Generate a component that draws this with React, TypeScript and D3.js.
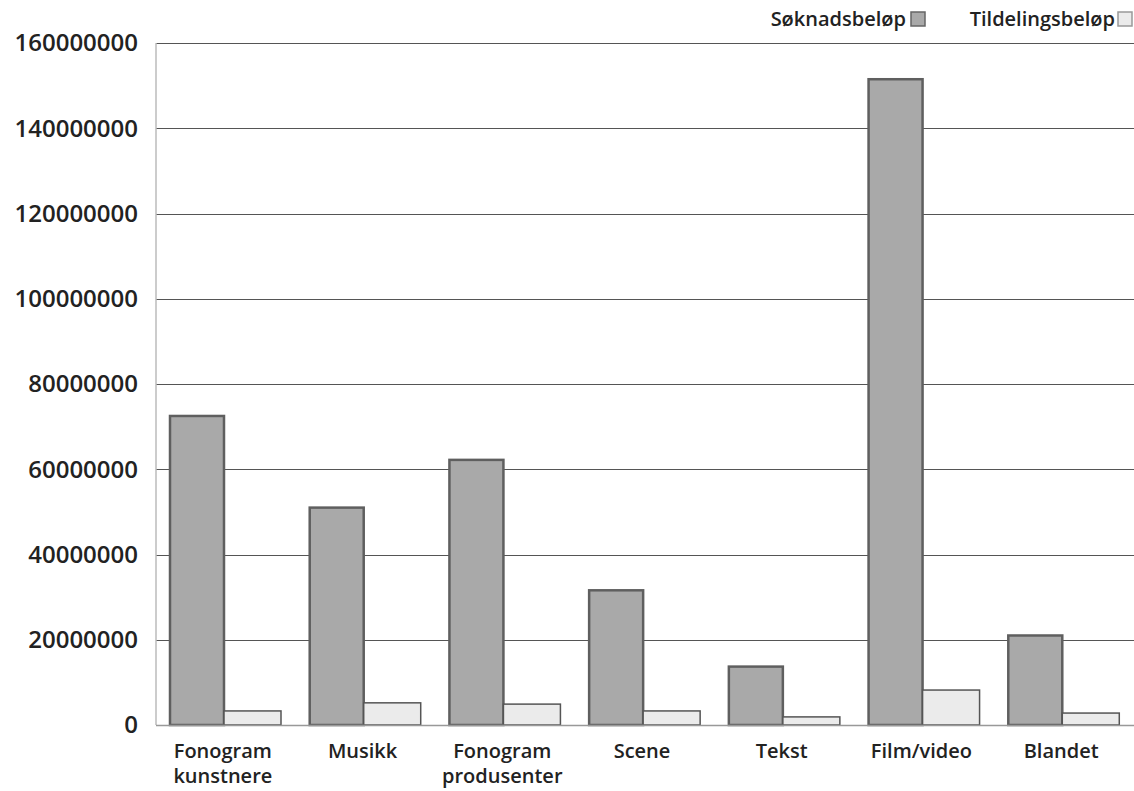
import React, { useEffect, useRef } from "react";
import * as d3 from "d3";

const categories = ["Fonogram\nkunstnere", "Musikk", "Fonogram\nprodusenter", "Scene", "Tekst", "Film/video", "Blandet"];
const soknad = [72500000, 51000000, 62200000, 31600000, 13700000, 151500000, 21000000];
const tildeling = [3300000, 5200000, 4900000, 3300000, 1900000, 8200000, 2800000];
const yTicks = [0, 20000000, 40000000, 60000000, 80000000, 100000000, 120000000, 140000000, 160000000];
const seriesNames = ["Søknadsbeløp", "Tildelingsbeløp"];

const W = 1134;
const H = 791;
const font = "'Open Sans', 'DejaVu Sans', sans-serif";

const App: React.FC = () => {
    const svgRef = useRef<SVGSVGElement | null>(null);

    useEffect(() => {
        const svg = d3.select(svgRef.current);
        svg.selectAll("*").remove();
        const margin = { top: 43, right: 0, bottom: 66, left: 156 };
        const width = W - margin.left - margin.right;
        const height = H - margin.top - margin.bottom;

        const g = svg.append("g").attr("transform", `translate(${margin.left},${margin.top})`);

        const x = d3.scaleBand().domain(categories).range([0, width]).paddingInner(0).paddingOuter(0);
        const y = d3.scaleLinear().domain([0, 160000000]).range([height, 0]);

        // gridlines
        g.selectAll("line.grid")
            .data(yTicks.filter((t) => t > 0))
            .join("line")
            .attr("class", "grid")
            .attr("x1", 0)
            .attr("x2", width)
            .attr("y1", (d) => Math.round(y(d)) + 0.5)
            .attr("y2", (d) => Math.round(y(d)) + 0.5)
            .attr("stroke", "#555")
            .attr("stroke-width", 1.2);

        const step = x.bandwidth();
        const b1 = 54;
        const b2 = 57;
        const off = 14;

        g.selectAll("rect.s1")
            .data(soknad)
            .join("rect")
            .attr("class", "s1")
            .attr("x", (d, i) => x(categories[i])! + off)
            .attr("y", (d) => y(d))
            .attr("width", b1)
            .attr("height", (d) => height - y(d))
            .attr("fill", "#a9a9a9")
            .attr("stroke", "#5f5f5f")
            .attr("stroke-width", 2.5);

        g.selectAll("rect.s2")
            .data(tildeling)
            .join("rect")
            .attr("class", "s2")
            .attr("x", (d, i) => x(categories[i])! + off + b1)
            .attr("y", (d) => y(d))
            .attr("width", b2)
            .attr("height", (d) => height - y(d))
            .attr("fill", "#ebebeb")
            .attr("stroke", "#555")
            .attr("stroke-width", 1.5);

        // axes lines
        g.append("line").attr("x1", 0).attr("x2", 0).attr("y1", 0).attr("y2", height)
            .attr("stroke", "#bbb").attr("stroke-width", 1.5);
        g.append("line").attr("x1", 0).attr("x2", width).attr("y1", height + 0.5).attr("y2", height + 0.5)
            .attr("stroke", "#999").attr("stroke-width", 1.5);

        // y labels
        g.selectAll("text.yl")
            .data(yTicks)
            .join("text")
            .attr("class", "yl")
            .attr("x", -18)
            .attr("y", (d) => y(d))
            .attr("dy", "0.35em")
            .attr("text-anchor", "end")
            .style("font-family", font)
            .style("font-size", "24px")
            .style("font-weight", 600)
            .attr("fill", "#222")
            .text((d) => String(d));

        // x labels, one text per line
        categories.forEach((c) => {
            c.split("\n").forEach((line, i) => {
                g.append("text")
                    .attr("x", x(c)! + step / 2 - 3)
                    .attr("y", height + 33 + i * 25)
                    .attr("text-anchor", "middle")
                    .style("font-family", font)
                    .style("font-size", "20px")
                    .style("font-weight", 600)
                    .attr("fill", "#222")
                    .text(line);
            });
        });

        // legend
        const legend = [
            { name: seriesNames[0], tx: 906, sx: 911, fill: "#a9a9a9", stroke: "#666" },
            { name: seriesNames[1], tx: 1115, sx: 1118, fill: "#ebebeb", stroke: "#999" },
        ];
        legend.forEach((l) => {
            svg.append("text")
                .attr("x", l.tx)
                .attr("y", 19)
                .attr("dy", "0.35em")
                .attr("text-anchor", "end")
                .style("font-family", font)
                .style("font-size", "20px")
                .style("font-weight", 600)
                .attr("fill", "#222")
                .text(l.name);
            svg.append("rect")
                .attr("x", l.sx)
                .attr("y", 12)
                .attr("width", 14)
                .attr("height", 14)
                .attr("fill", l.fill)
                .attr("stroke", l.stroke)
                .attr("stroke-width", 1.5);
        });
    }, []);

    return (
        <svg ref={svgRef} width={W} height={H}
            style={{ position: "absolute", left: 0, top: 0, background: "#fff" }} />
    );
};

export default App;
